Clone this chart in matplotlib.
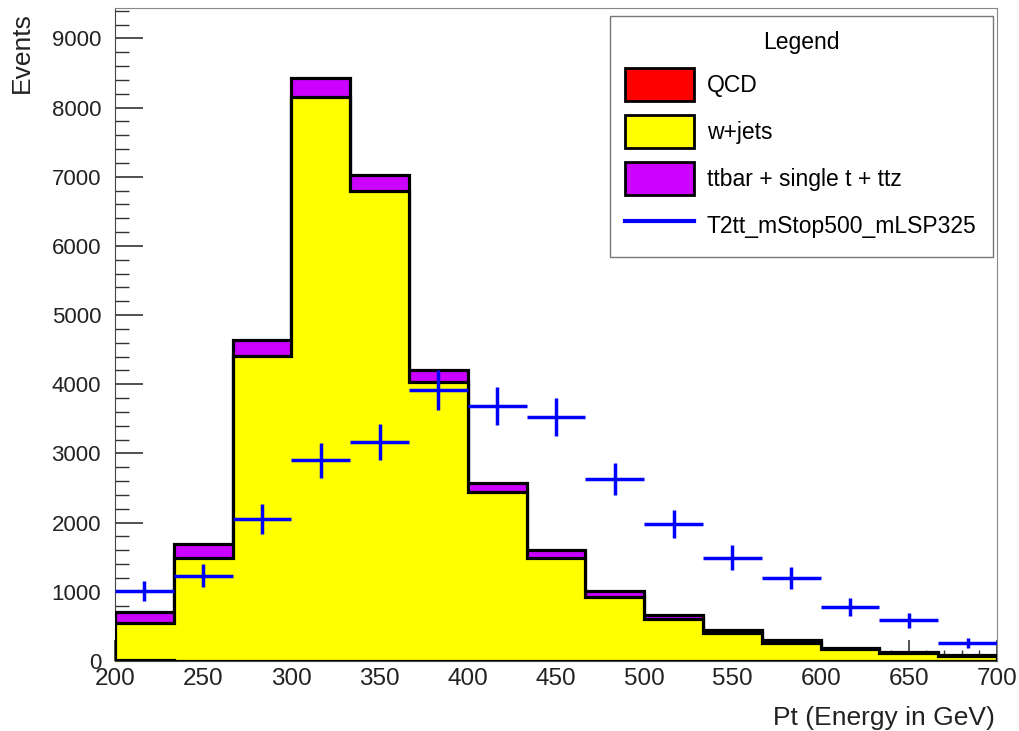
import numpy as np
import matplotlib
matplotlib.use("Agg")
import matplotlib.pyplot as plt
from matplotlib.patches import Patch
from matplotlib.lines import Line2D
from matplotlib.ticker import MultipleLocator

plt.rcParams['font.family'] = ['Liberation Sans', 'DejaVu Sans']

# 15 bins from 200 to 700 GeV
pt_min, pt_max, n_bins = 200, 700, 15

# stacked backgrounds (bottom to top)
qcd = [20, 0, 0, 0, 0, 0, 0, 0, 0, 0, 0, 0, 0, 0, 0]
wjets = [535, 1490, 4410, 8150, 6790, 4030, 2440, 1490, 925, 610, 400, 265, 170, 115, 75]
ttbar = [150, 200, 230, 275, 230, 175, 140, 110, 85, 60, 50, 35, 20, 15, 10]

# signal sample with error bars
signal = [1010, 1230, 2050, 2900, 3165, 3915, 3680, 3525, 2630, 1980, 1490, 1200, 780, 590, 260]
signal_err = [145, 165, 215, 250, 265, 285, 275, 270, 235, 205, 180, 160, 130, 110, 75]

labels = ['QCD', 'w+jets', 'ttbar + single t + ttz', 'T2tt_mStop500_mLSP325']
colors = ['#ff0000', '#ffff00', '#cc00ff']
signal_color = '#0000ff'

edges = np.linspace(pt_min, pt_max, n_bins + 1)
centers = 0.5 * (edges[:-1] + edges[1:])
half_width = 0.5 * (edges[1] - edges[0])

fig = plt.figure(figsize=(10.2, 7.31), dpi=100)
ax = fig.add_axes([0.1127, 0.0958, 0.8648, 0.8932])

# draw stack like ROOT: top layer first, each cumulative histogram outlined
layers = [qcd, wjets, ttbar]
cum = np.cumsum(np.array(layers, dtype=float), axis=0)
for i in reversed(range(len(layers))):
    ax.stairs(cum[i], edges, baseline=0, fill=True, facecolor=colors[i],
              edgecolor='none', zorder=2 + (3 - i))
    ax.stairs(cum[i], edges, baseline=0, fill=False, color='black',
              linewidth=2.3, zorder=2 + (3 - i))

ax.errorbar(centers, signal, xerr=half_width, yerr=signal_err, fmt='none',
            ecolor=signal_color, elinewidth=2.5, capsize=0, zorder=10)

ax.set_xlim(pt_min, pt_max)
ax.set_ylim(0, 9440)

ax.xaxis.set_major_locator(MultipleLocator(50))
ax.xaxis.set_minor_locator(MultipleLocator(10))
ax.yaxis.set_major_locator(MultipleLocator(1000))
ax.yaxis.set_minor_locator(MultipleLocator(200))
ax.tick_params(axis='both', which='both', direction='in', colors='#333333',
               labelcolor='#222222')
ax.tick_params(axis='y', which='major', length=20, width=1.2, pad=10, labelsize=16)
ax.tick_params(axis='y', which='minor', length=10, width=1.0)
ax.tick_params(axis='x', which='major', length=15, width=1.2, pad=5, labelsize=17.5)
ax.tick_params(axis='x', which='minor', length=8, width=1.0)
for side in ['top', 'right']:
    ax.spines[side].set_color('#888888')
for side in ['left', 'bottom']:
    ax.spines[side].set_color('#444444')

ax.set_ylabel('Events', fontsize=19, color='#222222', loc='top')
ax.yaxis.set_label_coords(-0.092, 0.994)
ax.set_xlabel('Pt (Energy in GeV)', fontsize=19, color='#222222', loc='right')
ax.xaxis.set_label_coords(0.998, -0.069)

handles = [Patch(facecolor=c, edgecolor='black', linewidth=2) for c in colors]
handles.append(Line2D([], [], color=signal_color, linewidth=3))
leg = ax.legend(handles, labels, title='Legend', loc='upper left',
                bbox_to_anchor=(0.561, 0.988, 0.434, 0.0), mode='expand',
                fontsize=16.5, title_fontsize=16.5, frameon=True, fancybox=False,
                edgecolor='#555555', handlelength=3.0, handleheight=1.84,
                handletextpad=0.57, labelspacing=0.61, borderpad=0.66,
                borderaxespad=0)
leg.get_frame().set_linewidth(1.0)
leg.set_zorder(20)

fig.savefig('out.png', dpi=100)
